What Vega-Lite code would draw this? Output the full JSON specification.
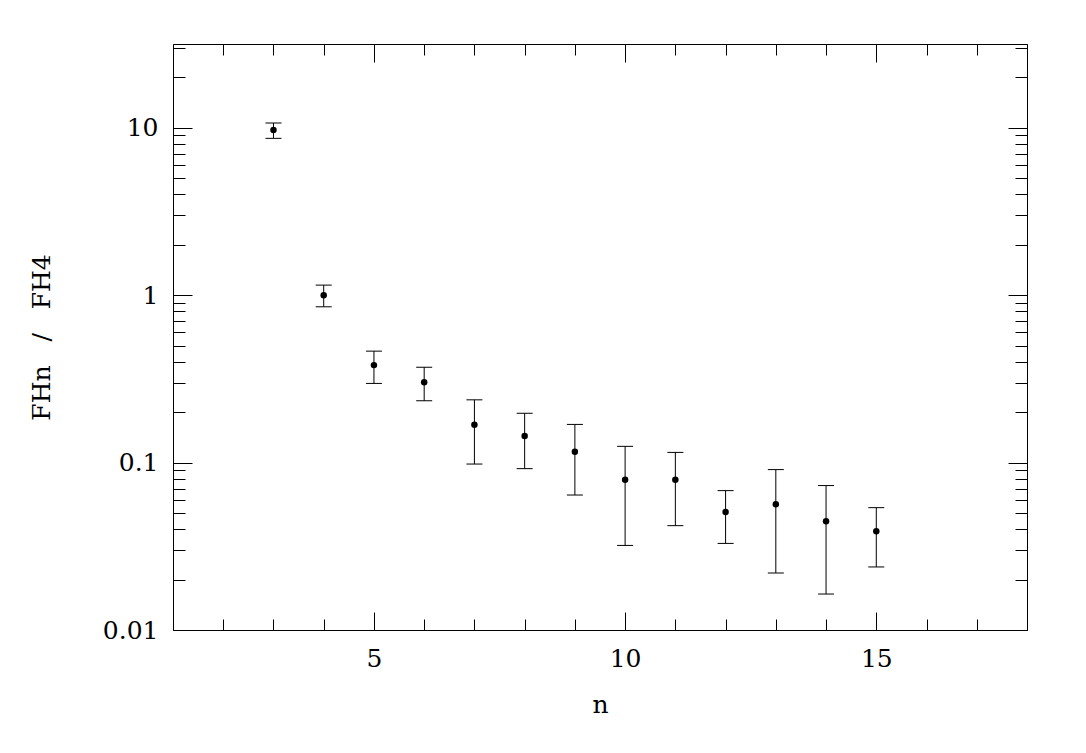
{
  "$schema": "https://vega.github.io/schema/vega-lite/v6.json",
  "width": 854,
  "height": 586,
  "autosize": {"type": "none"},
  "padding": {"left": 173, "top": 44, "right": 59, "bottom": 123},
  "background": "white",
  "config": {
    "view": {"stroke": null},
    "axis": {
      "domainColor": "black",
      "domainWidth": 1,
      "tickColor": "black",
      "tickWidth": 1,
      "grid": false,
      "labelFont": "DejaVu Serif",
      "titleFont": "DejaVu Serif",
      "labelFontSize": 25,
      "titleFontSize": 25,
      "labelColor": "black",
      "titleColor": "black",
      "titleFontWeight": "normal",
      "labelOverlap": false,
      "labelFlush": false
    }
  },
  "data": {
    "values": [
      {"n": 3, "v": 9.69, "lo": 8.64, "hi": 10.67},
      {"n": 4, "v": 1.0, "lo": 0.852, "hi": 1.148},
      {"n": 5, "v": 0.382, "lo": 0.297, "hi": 0.463},
      {"n": 6, "v": 0.302, "lo": 0.234, "hi": 0.371},
      {"n": 7, "v": 0.168, "lo": 0.098, "hi": 0.237},
      {"n": 8, "v": 0.144, "lo": 0.092, "hi": 0.197},
      {"n": 9, "v": 0.116, "lo": 0.064, "hi": 0.169},
      {"n": 10, "v": 0.079, "lo": 0.032, "hi": 0.125},
      {"n": 11, "v": 0.079, "lo": 0.042, "hi": 0.115},
      {"n": 12, "v": 0.0507, "lo": 0.0329, "hi": 0.068},
      {"n": 13, "v": 0.0563, "lo": 0.0219, "hi": 0.0908},
      {"n": 14, "v": 0.0446, "lo": 0.0164, "hi": 0.0729},
      {"n": 15, "v": 0.0389, "lo": 0.0238, "hi": 0.0538}
    ]
  },
  "layer": [
    {
      "mark": {"type": "rule", "color": "black", "strokeWidth": 1},
      "encoding": {
        "x": {
          "field": "n", "type": "quantitative",
          "scale": {"domain": [1, 18], "nice": false, "zero": false},
          "axis": {
            "orient": "bottom",
            "values": [1,2,3,4,5,6,7,8,9,10,11,12,13,14,15,16,17,18],
            "tickSize": {"condition": {"test": "datum.value % 5 === 0", "value": -18}, "value": -11},
            "labelExpr": "datum.value % 5 === 0 ? datum.label : ''",
            "labelPadding": 34,
            "title": "n",
            "titleY": 82,
            "titleBaseline": "alphabetic"
          }
        },
        "y": {
          "field": "lo", "type": "quantitative",
          "scale": {"type": "log", "domain": [0.01, 31.6227766], "nice": false},
          "axis": {
            "orient": "left",
            "values": [0.01,0.02,0.03,0.04,0.05,0.06,0.07,0.08,0.09,0.1,0.2,0.3,0.4,0.5,0.6,0.7,0.8,0.9,1,2,3,4,5,6,7,8,9,10,20,30],
            "tickSize": {"condition": {"test": "abs(log(datum.value)/LN10 - round(log(datum.value)/LN10)) < 0.001", "value": -19}, "value": -12},
            "labelExpr": "abs(log(datum.value)/LN10 - round(log(datum.value)/LN10)) < 0.001 ? format(datum.value, '~g') : ''",
            "labelPadding": 34,
            "title": "FHn\u00a0\u00a0\u00a0/\u00a0\u00a0\u00a0FH4",
            "titleX": -132,
            "titleY": 293,
            "titleAngle": 270,
            "titleAlign": "center",
            "titleBaseline": "middle"
          }
        },
        "y2": {"field": "hi"}
      }
    },
    {
      "mark": {"type": "tick", "orient": "horizontal", "size": 16, "thickness": 1, "color": "black", "opacity": 1},
      "encoding": {
        "x": {"field": "n", "type": "quantitative", "axis": null},
        "y": {"field": "lo", "type": "quantitative", "axis": null}
      }
    },
    {
      "mark": {"type": "tick", "orient": "horizontal", "size": 16, "thickness": 1, "color": "black", "opacity": 1},
      "encoding": {
        "x": {"field": "n", "type": "quantitative", "axis": null},
        "y": {"field": "hi", "type": "quantitative", "axis": null}
      }
    },
    {
      "mark": {"type": "circle", "size": 42, "color": "black", "opacity": 1},
      "encoding": {
        "x": {
          "field": "n", "type": "quantitative",
          "axis": {
            "orient": "top",
            "values": [1,2,3,4,5,6,7,8,9,10,11,12,13,14,15,16,17,18],
            "tickSize": {"condition": {"test": "datum.value % 5 === 0", "value": -18}, "value": -11},
            "labels": false,
            "title": null
          }
        },
        "y": {
          "field": "v", "type": "quantitative",
          "axis": {
            "orient": "right",
            "values": [0.01,0.02,0.03,0.04,0.05,0.06,0.07,0.08,0.09,0.1,0.2,0.3,0.4,0.5,0.6,0.7,0.8,0.9,1,2,3,4,5,6,7,8,9,10,20,30],
            "tickSize": {"condition": {"test": "abs(log(datum.value)/LN10 - round(log(datum.value)/LN10)) < 0.001", "value": -19}, "value": -12},
            "labels": false,
            "title": null
          }
        }
      }
    }
  ],
  "resolve": {"axis": {"x": "independent", "y": "independent"}}
}
